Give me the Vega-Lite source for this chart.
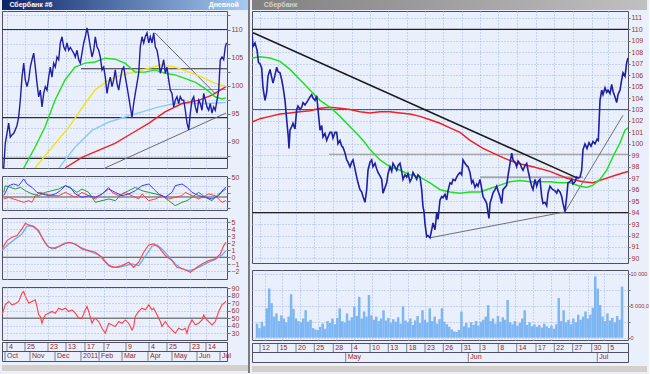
{
"$schema": "https://vega.github.io/schema/vega-lite/v6.json",
"padding": 0,
"background": "#eaeffc",
"bounds": "full",
"spacing": 0,
"config": {
  "view": {"stroke": null},
  "axis": {"title": null, "labelFont": "Liberation Sans", "labelFontSize": 7, "labelColor": "#9b2f2f", "tickColor": "#707070", "tickSize": 3, "labelPadding": 1, "domain": false, "gridColor": "#a3b5e6", "gridDash": [1, 2], "gridWidth": 1, "labelLimit": 19},
  "text": {"font": "Liberation Sans"}
},
"datasets": {
  "lp": [{"i":1.7,"v":85.3},{"i":3.3,"v":89.7},{"i":5,"v":91.5},{"i":6.7,"v":93.3},{"i":8.3,"v":90.8},{"i":10,"v":91.2},{"i":11.7,"v":91.5},{"i":13.3,"v":92.1},{"i":15,"v":92.9},{"i":16.7,"v":94.4},{"i":18.3,"v":97.4},{"i":20,"v":101.5},{"i":21.7,"v":104.0},{"i":23.3,"v":101.0},{"i":25,"v":99.8},{"i":26.7,"v":101.0},{"i":28.3,"v":103.3},{"i":30,"v":104.6},{"i":31.7,"v":105.8},{"i":33.3,"v":103.3},{"i":35,"v":100.4},{"i":36.7,"v":98.0},{"i":38.3,"v":99.2},{"i":40,"v":96.2},{"i":41.7,"v":98.6},{"i":43.3,"v":99.8},{"i":45,"v":99.2},{"i":46.7,"v":101.5},{"i":48.3,"v":103.3},{"i":50,"v":101.5},{"i":51.7,"v":104.0},{"i":53.3,"v":103.3},{"i":55,"v":105.1},{"i":56.7,"v":104.6},{"i":58.3,"v":107.6},{"i":60,"v":108.7},{"i":61.7,"v":106.9},{"i":63.3,"v":106.3},{"i":65,"v":107.6},{"i":66.7,"v":106.3},{"i":68.3,"v":106.8},{"i":70,"v":106.3},{"i":71.7,"v":105.8},{"i":73.3,"v":105.1},{"i":75,"v":106.3},{"i":76.7,"v":104.6},{"i":78.3,"v":104.0},{"i":80,"v":105.8},{"i":81.7,"v":107.6},{"i":83.3,"v":108.7},{"i":85,"v":110.3},{"i":86.7,"v":108.7},{"i":88.3,"v":106.9},{"i":90,"v":105.1},{"i":91.7,"v":106.3},{"i":93.3,"v":108.7},{"i":95,"v":106.9},{"i":96.7,"v":106.3},{"i":98.3,"v":105.1},{"i":100,"v":102.8},{"i":101.7,"v":103.3},{"i":103.3,"v":101.5},{"i":105,"v":98.6},{"i":106.7,"v":100.4},{"i":108.3,"v":101.5},{"i":110,"v":99.8},{"i":111.7,"v":101.0},{"i":113.3,"v":102.8},{"i":115,"v":100.4},{"i":116.7,"v":99.2},{"i":118.3,"v":101.0},{"i":120,"v":102.8},{"i":121.7,"v":103.3},{"i":123.3,"v":101.5},{"i":125,"v":99.8},{"i":126.7,"v":98.0},{"i":128.3,"v":96.2},{"i":130,"v":94.4},{"i":131.7,"v":96.8},{"i":133.3,"v":98.6},{"i":135,"v":100.4},{"i":136.7,"v":102.2},{"i":138.3,"v":106.9},{"i":140,"v":108.7},{"i":141.7,"v":107.6},{"i":143.3,"v":108.7},{"i":145,"v":109.4},{"i":146.7,"v":107.6},{"i":148.3,"v":108.7},{"i":150,"v":107.6},{"i":151.7,"v":109.4},{"i":153.3,"v":106.9},{"i":155,"v":106.3},{"i":156.7,"v":104.6},{"i":158.3,"v":102.2},{"i":160,"v":103.3},{"i":161.7,"v":104.6},{"i":163.3,"v":102.2},{"i":165,"v":103.3},{"i":166.7,"v":101.0},{"i":168.3,"v":99.2},{"i":170,"v":98.6},{"i":171.7,"v":96.2},{"i":173.3,"v":97.4},{"i":175,"v":98.0},{"i":176.7,"v":96.8},{"i":178.3,"v":98.0},{"i":180,"v":97.4},{"i":181.7,"v":97.4},{"i":183.3,"v":95.6},{"i":185,"v":93.3},{"i":186.7,"v":92.1},{"i":188.3,"v":95.1},{"i":190,"v":97.4},{"i":191.7,"v":98.0},{"i":193.3,"v":96.2},{"i":195,"v":95.1},{"i":196.7,"v":97.4},{"i":198.3,"v":96.8},{"i":200,"v":95.6},{"i":201.7,"v":98.6},{"i":203.3,"v":97.4},{"i":205,"v":96.2},{"i":206.7,"v":95.6},{"i":208.3,"v":96.8},{"i":210,"v":95.1},{"i":211.7,"v":96.2},{"i":213.3,"v":95.6},{"i":215,"v":97.4},{"i":216.7,"v":99.2},{"i":218.3,"v":104.6},{"i":220,"v":105.1},{"i":221.7,"v":104.6},{"i":223.3,"v":106.9},{"i":224.5,"v":107.6}],
  "lma": [
    {"s":"g","i":21.7,"v":85.3},{"s":"g","i":33,"v":89},{"s":"g","i":43,"v":92.6},{"s":"g","i":53,"v":97.4},{"s":"g","i":63,"v":101},{"s":"g","i":73,"v":103.3},{"s":"g","i":83,"v":104},{"s":"g","i":93,"v":104.2},{"s":"g","i":103,"v":104.9},{"s":"g","i":113,"v":104.7},{"s":"g","i":123,"v":104},{"s":"g","i":133,"v":102.4},{"s":"g","i":143,"v":102.4},{"s":"g","i":153,"v":102.8},{"s":"g","i":163,"v":102.2},{"s":"g","i":173,"v":101.9},{"s":"g","i":183,"v":101.3},{"s":"g","i":193,"v":100.6},{"s":"g","i":203,"v":99.5},{"s":"g","i":213,"v":98},{"s":"g","i":220,"v":97.6},{"s":"g","i":224,"v":97.8},
    {"s":"y","i":33,"v":85.3},{"s":"y","i":50,"v":89},{"s":"y","i":67,"v":92.6},{"s":"y","i":83,"v":96.8},{"s":"y","i":93,"v":99.2},{"s":"y","i":107,"v":101},{"s":"y","i":120,"v":101.9},{"s":"y","i":133,"v":102.4},{"s":"y","i":147,"v":103.1},{"s":"y","i":160,"v":103.7},{"s":"y","i":173,"v":103.3},{"s":"y","i":187,"v":102.4},{"s":"y","i":200,"v":101.5},{"s":"y","i":213,"v":100.4},{"s":"y","i":224,"v":99.9},
    {"s":"b","i":57,"v":85.3},{"s":"b","i":73,"v":89},{"s":"b","i":90,"v":92},{"s":"b","i":107,"v":93.5},{"s":"b","i":123,"v":94.4},{"s":"b","i":140,"v":95.3},{"s":"b","i":157,"v":96.2},{"s":"b","i":173,"v":96.8},{"s":"b","i":190,"v":96.8},{"s":"b","i":207,"v":96.8},{"s":"b","i":224,"v":97},
    {"s":"r","i":63,"v":85.3},{"s":"r","i":80,"v":87.2},{"s":"r","i":97,"v":88.5},{"s":"r","i":113,"v":89.7},{"s":"r","i":130,"v":91.5},{"s":"r","i":147,"v":93.3},{"s":"r","i":163,"v":95.3},{"s":"r","i":180,"v":96.8},{"s":"r","i":197,"v":97.4},{"s":"r","i":210,"v":98.3},{"s":"r","i":224,"v":99.8}],
  "ltl": [{"s":"sup","i":103,"v":85.3},{"s":"sup","i":224,"v":95.1},{"s":"res","i":153,"v":109.4},{"s":"res","i":213,"v":98.6}],
  "lh": [{"i":0,"i2":225,"v":110,"k":"b"},{"i":79,"i2":225,"v":103,"k":"b"},{"i":155,"i2":224,"v":99.3,"k":"g"},{"i":0,"i2":225,"v":94.3,"k":"b"},{"i":0,"i2":225,"v":87,"k":"b"}],
  "ldmi": [
    {"s":"b","i":1.7,"v":26.7},{"s":"b","i":6.7,"v":39.9},{"s":"b","i":11.7,"v":42.1},{"s":"b","i":16.7,"v":39.9},{"s":"b","i":21.7,"v":48.7},{"s":"b","i":25,"v":42.1},{"s":"b","i":30,"v":37.7},{"s":"b","i":35,"v":31.1},{"s":"b","i":40,"v":29.0},{"s":"b","i":46.7,"v":26.7},{"s":"b","i":53.3,"v":29.0},{"s":"b","i":58.3,"v":33.3},{"s":"b","i":63.3,"v":39.9},{"s":"b","i":68.3,"v":37.7},{"s":"b","i":73.3,"v":29.0},{"s":"b","i":80,"v":24.6},{"s":"b","i":86.7,"v":26.7},{"s":"b","i":93.3,"v":24.6},{"s":"b","i":100,"v":29.0},{"s":"b","i":106.7,"v":35.5},{"s":"b","i":113.3,"v":31.1},{"s":"b","i":120,"v":26.7},{"s":"b","i":126.7,"v":29.0},{"s":"b","i":133.3,"v":33.3},{"s":"b","i":140,"v":39.9},{"s":"b","i":146.7,"v":42.1},{"s":"b","i":151.7,"v":35.5},{"s":"b","i":156.7,"v":29.0},{"s":"b","i":163.3,"v":24.6},{"s":"b","i":170,"v":31.1},{"s":"b","i":173.3,"v":39.9},{"s":"b","i":180,"v":42.1},{"s":"b","i":185,"v":37.7},{"s":"b","i":190,"v":31.1},{"s":"b","i":196.7,"v":26.7},{"s":"b","i":203.3,"v":24.6},{"s":"b","i":210,"v":22.4},{"s":"b","i":216.7,"v":26.7},{"s":"b","i":221.7,"v":35.5},{"s":"b","i":224,"v":37.7},
    {"s":"r","i":1.7,"v":22.4},{"s":"r","i":6.7,"v":24.6},{"s":"r","i":11.7,"v":22.4},{"s":"r","i":16.7,"v":20.2},{"s":"r","i":21.7,"v":18.0},{"s":"r","i":26.7,"v":20.2},{"s":"r","i":30,"v":18.0},{"s":"r","i":33.3,"v":26.7},{"s":"r","i":38.3,"v":31.1},{"s":"r","i":43.3,"v":29.0},{"s":"r","i":50,"v":26.7},{"s":"r","i":56.7,"v":26.7},{"s":"r","i":63.3,"v":31.1},{"s":"r","i":70,"v":26.7},{"s":"r","i":73.3,"v":24.6},{"s":"r","i":80,"v":31.1},{"s":"r","i":86.7,"v":26.7},{"s":"r","i":93.3,"v":22.4},{"s":"r","i":100,"v":29.0},{"s":"r","i":106.7,"v":37.7},{"s":"r","i":110,"v":31.1},{"s":"r","i":116.7,"v":26.7},{"s":"r","i":123.3,"v":31.1},{"s":"r","i":130,"v":26.7},{"s":"r","i":136.7,"v":22.4},{"s":"r","i":140,"v":29.0},{"s":"r","i":146.7,"v":20.2},{"s":"r","i":153.3,"v":22.4},{"s":"r","i":160,"v":26.7},{"s":"r","i":166.7,"v":22.4},{"s":"r","i":173.3,"v":24.6},{"s":"r","i":180,"v":26.7},{"s":"r","i":183.3,"v":31.1},{"s":"r","i":190,"v":26.7},{"s":"r","i":196.7,"v":22.4},{"s":"r","i":203.3,"v":26.7},{"s":"r","i":206.7,"v":29.0},{"s":"r","i":213.3,"v":26.7},{"s":"r","i":220,"v":18.0},{"s":"r","i":224,"v":20.2},
    {"s":"g","i":1.7,"v":31.1},{"s":"g","i":3.3,"v":39.9},{"s":"g","i":8.3,"v":37.7},{"s":"g","i":13.3,"v":35.5},{"s":"g","i":18.3,"v":37.7},{"s":"g","i":23.3,"v":33.3},{"s":"g","i":30,"v":29.0},{"s":"g","i":36.7,"v":26.7},{"s":"g","i":43.3,"v":31.1},{"s":"g","i":50,"v":33.3},{"s":"g","i":56.7,"v":35.5},{"s":"g","i":63.3,"v":39.9},{"s":"g","i":70,"v":35.5},{"s":"g","i":75,"v":31.1},{"s":"g","i":80,"v":35.5},{"s":"g","i":86.7,"v":31.1},{"s":"g","i":93.3,"v":18.0},{"s":"g","i":100,"v":20.2},{"s":"g","i":106.7,"v":22.4},{"s":"g","i":113.3,"v":20.2},{"s":"g","i":120,"v":29.0},{"s":"g","i":126.7,"v":33.3},{"s":"g","i":133.3,"v":37.7},{"s":"g","i":140,"v":33.3},{"s":"g","i":146.7,"v":31.1},{"s":"g","i":153.3,"v":29.0},{"s":"g","i":160,"v":26.7},{"s":"g","i":166.7,"v":20.2},{"s":"g","i":173.3,"v":13.6},{"s":"g","i":180,"v":18.0},{"s":"g","i":185,"v":20.2},{"s":"g","i":190,"v":24.6},{"s":"g","i":196.7,"v":31.1},{"s":"g","i":203.3,"v":24.6},{"s":"g","i":210,"v":20.2},{"s":"g","i":216.7,"v":29.0},{"s":"g","i":221.7,"v":33.3},{"s":"g","i":224,"v":35.5}],
  "lmacd": [
    {"s":"r","i":0,"v":1.19},{"s":"r","i":5,"v":2.38},{"s":"r","i":10,"v":2.85},{"s":"r","i":15,"v":3.09},{"s":"r","i":20,"v":4.04},{"s":"r","i":23.3,"v":4.86},{"s":"r","i":26.7,"v":4.61},{"s":"r","i":31.7,"v":4.43},{"s":"r","i":36.7,"v":3.80},{"s":"r","i":41.7,"v":2.38},{"s":"r","i":46.7,"v":1.43},{"s":"r","i":53.3,"v":1.28},{"s":"r","i":60,"v":1.76},{"s":"r","i":66.7,"v":2.14},{"s":"r","i":73.3,"v":1.90},{"s":"r","i":80,"v":1.19},{"s":"r","i":86.7,"v":0.95},{"s":"r","i":93.3,"v":0.71},{"s":"r","i":100,"v":0},{"s":"r","i":106.7,"v":-1.19},{"s":"r","i":113.3,"v":-1.43},{"s":"r","i":120,"v":-1.19},{"s":"r","i":126.7,"v":-0.71},{"s":"r","i":131.7,"v":-1.43},{"s":"r","i":136.7,"v":-0.71},{"s":"r","i":141.7,"v":0.71},{"s":"r","i":146.7,"v":1.76},{"s":"r","i":151.7,"v":1.90},{"s":"r","i":156.7,"v":1.43},{"s":"r","i":163.3,"v":0.24},{"s":"r","i":170,"v":-0.48},{"s":"r","i":175,"v":-1.43},{"s":"r","i":181.7,"v":-1.67},{"s":"r","i":188.3,"v":-2.14},{"s":"r","i":195,"v":-1.43},{"s":"r","i":200,"v":-0.95},{"s":"r","i":206.7,"v":-0.48},{"s":"r","i":213.3,"v":-0.24},{"s":"r","i":218.3,"v":0.47},{"s":"r","i":221.7,"v":1.66},{"s":"r","i":224,"v":2.14},
    {"s":"b","i":0,"v":0.95},{"s":"b","i":6.7,"v":1.90},{"s":"b","i":13.3,"v":2.61},{"s":"b","i":20,"v":3.33},{"s":"b","i":25,"v":4.43},{"s":"b","i":30,"v":4.43},{"s":"b","i":35,"v":3.95},{"s":"b","i":40,"v":2.85},{"s":"b","i":45,"v":1.66},{"s":"b","i":50,"v":1.19},{"s":"b","i":56.7,"v":1.57},{"s":"b","i":63.3,"v":2.04},{"s":"b","i":70,"v":2.04},{"s":"b","i":76.7,"v":1.57},{"s":"b","i":83.3,"v":1.09},{"s":"b","i":90,"v":0.71},{"s":"b","i":96.7,"v":0.33},{"s":"b","i":103.3,"v":-0.71},{"s":"b","i":110,"v":-1.43},{"s":"b","i":116.7,"v":-1.43},{"s":"b","i":123.3,"v":-1.19},{"s":"b","i":130,"v":-0.95},{"s":"b","i":136.7,"v":-1.19},{"s":"b","i":143.3,"v":0.14},{"s":"b","i":150,"v":1.57},{"s":"b","i":155,"v":1.76},{"s":"b","i":160,"v":1.19},{"s":"b","i":166.7,"v":0.14},{"s":"b","i":173.3,"v":-0.95},{"s":"b","i":180,"v":-1.67},{"s":"b","i":186.7,"v":-1.91},{"s":"b","i":193.3,"v":-1.67},{"s":"b","i":200,"v":-1.19},{"s":"b","i":206.7,"v":-0.71},{"s":"b","i":213.3,"v":-0.33},{"s":"b","i":220,"v":0.33},{"s":"b","i":224,"v":0.95}],
  "lrsi": [{"i":0,"v":54.4},{"i":3.3,"v":67.7},{"i":6.7,"v":72.2},{"i":10,"v":67.7},{"i":13.3,"v":69.1},{"i":16.7,"v":72.2},{"i":20,"v":83.3},{"i":21.7,"v":85.5},{"i":23.3,"v":78.9},{"i":26.7,"v":70.0},{"i":30,"v":72.2},{"i":33.3,"v":74.4},{"i":35,"v":65.5},{"i":36.7,"v":54.4},{"i":38.3,"v":52.2},{"i":40,"v":43.3},{"i":41.7,"v":50.0},{"i":43.3,"v":54.4},{"i":46.7,"v":56.6},{"i":50,"v":58.9},{"i":53.3,"v":56.6},{"i":56.7,"v":63.3},{"i":60,"v":61.1},{"i":63.3,"v":63.3},{"i":66.7,"v":58.9},{"i":70,"v":61.1},{"i":73.3,"v":56.6},{"i":76.7,"v":50.0},{"i":80,"v":50.0},{"i":83.3,"v":61.1},{"i":85,"v":65.5},{"i":86.7,"v":58.9},{"i":90,"v":43.3},{"i":91.7,"v":47.7},{"i":93.3,"v":50.0},{"i":96.7,"v":45.5},{"i":100,"v":36.6},{"i":103.3,"v":30.0},{"i":105,"v":36.6},{"i":106.7,"v":43.3},{"i":110,"v":41.1},{"i":113.3,"v":38.9},{"i":116.7,"v":45.5},{"i":120,"v":43.3},{"i":123.3,"v":47.7},{"i":126.7,"v":43.3},{"i":130,"v":34.4},{"i":131.7,"v":38.9},{"i":133.3,"v":52.2},{"i":136.7,"v":58.9},{"i":140,"v":63.3},{"i":143.3,"v":61.1},{"i":146.7,"v":67.7},{"i":150,"v":61.1},{"i":151.7,"v":63.3},{"i":155,"v":54.4},{"i":158.3,"v":45.5},{"i":160,"v":38.9},{"i":163.3,"v":45.5},{"i":166.7,"v":38.9},{"i":170,"v":34.4},{"i":173.3,"v":30.0},{"i":176.7,"v":36.6},{"i":180,"v":34.4},{"i":183.3,"v":36.6},{"i":185,"v":30.0},{"i":186.7,"v":38.9},{"i":190,"v":47.7},{"i":193.3,"v":41.1},{"i":196.7,"v":43.3},{"i":200,"v":47.7},{"i":201.7,"v":54.4},{"i":203.3,"v":50.0},{"i":206.7,"v":45.5},{"i":210,"v":41.1},{"i":213.3,"v":45.5},{"i":216.7,"v":58.9},{"i":220,"v":67.7},{"i":224,"v":72.2}],
  "ldate": [{"r":"d","i":5,"l":"4"},{"r":"d","i":23,"l":"25"},{"r":"d","i":46,"l":"23"},{"r":"d","i":64,"l":"13"},{"r":"d","i":83,"l":"17"},{"r":"d","i":102,"l":"7"},{"r":"d","i":124,"l":"9"},{"r":"d","i":147,"l":"4"},{"r":"d","i":165,"l":"25"},{"r":"d","i":188,"l":"23"},{"r":"d","i":204,"l":"14"},{"r":"m","i":3,"l":"Oct"},{"r":"m","i":28,"l":"Nov"},{"r":"m","i":53,"l":"Dec"},{"r":"m","i":79,"l":"2011"},{"r":"m","i":97,"l":"Feb"},{"r":"m","i":120,"l":"Mar"},{"r":"m","i":146,"l":"Apr"},{"r":"m","i":170,"l":"May"},{"r":"m","i":195,"l":"Jun"},{"r":"m","i":218,"l":"Jul"}],
  "rp": [{"i":0,"v":109.6},{"i":1,"v":108.5},{"i":3,"v":108.8},{"i":5,"v":108.2},{"i":6.5,"v":107.1},{"i":8,"v":107.0},{"i":9.7,"v":106.6},{"i":11,"v":104.9},{"i":13,"v":103.8},{"i":14.7,"v":104.5},{"i":16,"v":105.9},{"i":18,"v":106.5},{"i":19.7,"v":105.8},{"i":21,"v":105.3},{"i":23,"v":106.0},{"i":24.7,"v":106.7},{"i":26,"v":106.3},{"i":28,"v":106.2},{"i":29.7,"v":105.6},{"i":31,"v":105.0},{"i":33,"v":103.8},{"i":34.7,"v":102.1},{"i":36.3,"v":100.6},{"i":37,"v":99.6},{"i":38,"v":101.2},{"i":39.7,"v":101.5},{"i":41,"v":101.8},{"i":43,"v":101.3},{"i":44.7,"v":103.0},{"i":46,"v":103.3},{"i":48,"v":103.0},{"i":49.7,"v":103.2},{"i":51,"v":103.6},{"i":53,"v":103.4},{"i":56,"v":103.8},{"i":58,"v":104.1},{"i":59.7,"v":104.3},{"i":61,"v":104.0},{"i":63,"v":103.8},{"i":64.7,"v":104.2},{"i":66,"v":103.0},{"i":68,"v":101.2},{"i":69.7,"v":101.6},{"i":71,"v":100.6},{"i":73,"v":100.9},{"i":74.7,"v":100.3},{"i":76,"v":100.6},{"i":78,"v":101.0},{"i":79.7,"v":101.0},{"i":81,"v":100.5},{"i":83,"v":101.0},{"i":84.7,"v":101.0},{"i":86,"v":100.0},{"i":88,"v":100.3},{"i":89.7,"v":99.8},{"i":91,"v":99.7},{"i":93,"v":99.2},{"i":94.7,"v":98.6},{"i":96,"v":98.4},{"i":98,"v":98.0},{"i":99.7,"v":98.4},{"i":101,"v":98.6},{"i":103,"v":97.8},{"i":104.7,"v":97.1},{"i":106,"v":96.6},{"i":108,"v":96.0},{"i":109.7,"v":95.8},{"i":111,"v":95.4},{"i":113,"v":94.9},{"i":114.7,"v":96.0},{"i":116,"v":97.7},{"i":118,"v":98.4},{"i":119.7,"v":98.6},{"i":121,"v":98.0},{"i":123,"v":98.3},{"i":124.7,"v":97.8},{"i":126,"v":97.5},{"i":128,"v":97.2},{"i":129.7,"v":96.9},{"i":131,"v":95.7},{"i":133,"v":96.2},{"i":134.7,"v":96.6},{"i":136,"v":97.4},{"i":138,"v":98.0},{"i":139.7,"v":97.6},{"i":141,"v":98.3},{"i":143,"v":98.0},{"i":144.7,"v":97.7},{"i":146,"v":98.1},{"i":148,"v":98.3},{"i":149.7,"v":97.6},{"i":151,"v":96.9},{"i":153,"v":97.3},{"i":154.7,"v":97.1},{"i":156,"v":97.4},{"i":158,"v":96.7},{"i":159.7,"v":97.0},{"i":161,"v":97.5},{"i":163,"v":97.2},{"i":164.7,"v":96.9},{"i":166,"v":97.3},{"i":168,"v":97.1},{"i":169.7,"v":96.0},{"i":171,"v":94.5},{"i":172,"v":94.1},{"i":173,"v":93.0},{"i":174.7,"v":91.9},{"i":176,"v":92.0},{"i":178,"v":91.8},{"i":179.7,"v":92.5},{"i":181,"v":93.1},{"i":183,"v":92.5},{"i":184.7,"v":94.0},{"i":186,"v":93.4},{"i":188,"v":95.1},{"i":189.7,"v":95.4},{"i":191,"v":95.3},{"i":193,"v":95.6},{"i":194.7,"v":95.1},{"i":196,"v":95.9},{"i":198,"v":96.6},{"i":199.7,"v":96.5},{"i":201,"v":96.9},{"i":203,"v":96.8},{"i":204.7,"v":97.1},{"i":206,"v":97.3},{"i":208,"v":97.5},{"i":209.7,"v":97.3},{"i":211,"v":98.6},{"i":213,"v":98.3},{"i":214.7,"v":98.1},{"i":216,"v":98.0},{"i":218,"v":97.5},{"i":219.7,"v":96.6},{"i":221,"v":96.8},{"i":223,"v":96.2},{"i":224.7,"v":96.5},{"i":226,"v":96.3},{"i":228,"v":96.9},{"i":229.7,"v":96.1},{"i":231,"v":95.4},{"i":233,"v":95.1},{"i":234.7,"v":94.8},{"i":236,"v":94.0},{"i":237,"v":93.5},{"i":238,"v":94.8},{"i":239.7,"v":95.3},{"i":241,"v":95.7},{"i":243,"v":96.0},{"i":244.7,"v":96.3},{"i":246,"v":95.9},{"i":248,"v":95.4},{"i":249.7,"v":94.8},{"i":251,"v":96.0},{"i":253,"v":96.2},{"i":254.7,"v":96.4},{"i":256,"v":97.2},{"i":258,"v":98.3},{"i":259.7,"v":99.2},{"i":261,"v":98.6},{"i":263,"v":98.4},{"i":264.7,"v":98.0},{"i":266,"v":98.5},{"i":268,"v":98.3},{"i":269.7,"v":97.9},{"i":271,"v":97.7},{"i":273,"v":98.1},{"i":274.7,"v":98.3},{"i":276,"v":97.7},{"i":278,"v":96.9},{"i":279.7,"v":96.3},{"i":281,"v":96.0},{"i":283,"v":96.9},{"i":284.7,"v":96.3},{"i":286,"v":96.7},{"i":288,"v":96.9},{"i":289.7,"v":95.4},{"i":291,"v":94.8},{"i":293,"v":94.9},{"i":294.7,"v":94.6},{"i":296,"v":95.7},{"i":298,"v":96.3},{"i":299.7,"v":96.1},{"i":301,"v":96.0},{"i":303,"v":95.9},{"i":304.7,"v":95.7},{"i":306,"v":96.0},{"i":308,"v":95.8},{"i":309.7,"v":95.4},{"i":311,"v":94.8},{"i":313,"v":94.1},{"i":314.7,"v":95.4},{"i":316,"v":96.6},{"i":318,"v":96.7},{"i":319.7,"v":96.9},{"i":321,"v":96.5},{"i":323,"v":96.7},{"i":324.7,"v":97.1},{"i":326,"v":97.0},{"i":328,"v":97.1},{"i":329.7,"v":97.7},{"i":331,"v":99.5},{"i":333,"v":100.0},{"i":335,"v":99.6},{"i":337,"v":100.1},{"i":339,"v":99.8},{"i":341,"v":100.2},{"i":343,"v":100.0},{"i":345,"v":100.4},{"i":346.3,"v":100.3},{"i":348,"v":103.8},{"i":349.7,"v":104.7},{"i":351,"v":104.3},{"i":353,"v":104.9},{"i":354.7,"v":104.5},{"i":356,"v":104.7},{"i":358,"v":104.4},{"i":359.7,"v":105.2},{"i":361,"v":104.6},{"i":363,"v":104.1},{"i":364.7,"v":103.6},{"i":366,"v":104.3},{"i":368,"v":104.7},{"i":369.7,"v":105.6},{"i":371,"v":106.2},{"i":373,"v":105.9},{"i":374.7,"v":107.1},{"i":376,"v":107.5}],
  "rma": [
    {"s":"g","i":0,"v":107.5},{"s":"g","i":8,"v":107.6},{"s":"g","i":18,"v":107.5},{"s":"g","i":28,"v":107.2},{"s":"g","i":38,"v":106.5},{"s":"g","i":48,"v":105.6},{"s":"g","i":58,"v":104.7},{"s":"g","i":68,"v":103.8},{"s":"g","i":78,"v":103.2},{"s":"g","i":88,"v":102.4},{"s":"g","i":98,"v":101.5},{"s":"g","i":108,"v":100.6},{"s":"g","i":113,"v":100.1},{"s":"g","i":118,"v":99.5},{"s":"g","i":128,"v":98.6},{"s":"g","i":138,"v":98.0},{"s":"g","i":148,"v":97.7},{"s":"g","i":158,"v":97.3},{"s":"g","i":168,"v":97.1},{"s":"g","i":178,"v":96.6},{"s":"g","i":188,"v":96.0},{"s":"g","i":198,"v":95.8},{"s":"g","i":208,"v":95.7},{"s":"g","i":218,"v":95.8},{"s":"g","i":228,"v":95.8},{"s":"g","i":238,"v":96.1},{"s":"g","i":248,"v":96.4},{"s":"g","i":258,"v":96.7},{"s":"g","i":268,"v":96.8},{"s":"g","i":278,"v":96.7},{"s":"g","i":288,"v":96.7},{"s":"g","i":298,"v":96.7},{"s":"g","i":308,"v":96.6},{"s":"g","i":318,"v":96.6},{"s":"g","i":328,"v":96.3},{"s":"g","i":334.7,"v":96.2},{"s":"g","i":341,"v":96.4},{"s":"g","i":348,"v":96.9},{"s":"g","i":354.7,"v":97.7},{"s":"g","i":361,"v":98.9},{"s":"g","i":368,"v":100.1},{"s":"g","i":373,"v":101.2},{"s":"g","i":376,"v":101.4},
    {"s":"r","i":0,"v":101.9},{"s":"r","i":8,"v":102.2},{"s":"r","i":18,"v":102.4},{"s":"r","i":28,"v":102.6},{"s":"r","i":38,"v":102.7},{"s":"r","i":48,"v":102.8},{"s":"r","i":58,"v":102.9},{"s":"r","i":68,"v":103.1},{"s":"r","i":78,"v":103.2},{"s":"r","i":88,"v":103.1},{"s":"r","i":98,"v":103.0},{"s":"r","i":108,"v":102.8},{"s":"r","i":118,"v":102.7},{"s":"r","i":128,"v":102.8},{"s":"r","i":138,"v":102.8},{"s":"r","i":148,"v":102.7},{"s":"r","i":158,"v":102.6},{"s":"r","i":168,"v":102.4},{"s":"r","i":178,"v":102.1},{"s":"r","i":188,"v":101.8},{"s":"r","i":198,"v":101.4},{"s":"r","i":208,"v":101.0},{"s":"r","i":218,"v":100.3},{"s":"r","i":231,"v":99.6},{"s":"r","i":251,"v":98.8},{"s":"r","i":265,"v":98.3},{"s":"r","i":281,"v":98.0},{"s":"r","i":298,"v":97.6},{"s":"r","i":315,"v":97.0},{"s":"r","i":331,"v":96.7},{"s":"r","i":341,"v":96.6},{"s":"r","i":351,"v":96.9},{"s":"r","i":365,"v":97.3},{"s":"r","i":376,"v":97.6}],
  "rtl": [{"s":"t1","k":"b","i":1,"v":109.7},{"s":"t1","k":"b","i":325,"v":97.03},{"s":"t2","k":"g","i":178,"v":91.8},{"s":"t2","k":"g","i":313,"v":94.06},{"s":"t3","k":"g","i":313,"v":94.06},{"s":"t3","k":"g","i":371,"v":102.5}],
  "rh": [{"i":0,"i2":376,"v":110,"k":"b"},{"i":0,"i2":376,"v":103,"k":"d"},{"i":77,"i2":376,"v":99.1,"k":"g"},{"i":228,"i2":331,"v":97.1,"k":"g"},{"i":0,"i2":376,"v":94,"k":"b"}],
  "rvol": [{"i":0,"v":2200},{"i":2.5,"v":1500},{"i":5,"v":2500},{"i":7.5,"v":1800},{"i":10,"v":4600},{"i":12.5,"v":7700},{"i":15,"v":5400},{"i":17.5,"v":3300},{"i":20,"v":3800},{"i":22.5,"v":2600},{"i":25,"v":3500},{"i":27.5,"v":3000},{"i":30,"v":2400},{"i":32.5,"v":3300},{"i":35,"v":6800},{"i":37.5,"v":4500},{"i":40,"v":3000},{"i":42.5,"v":2600},{"i":45,"v":2400},{"i":47.5,"v":3000},{"i":50,"v":4300},{"i":52.5,"v":2500},{"i":55,"v":2800},{"i":57.5,"v":1500},{"i":60,"v":1300},{"i":62.5,"v":1200},{"i":65,"v":1700},{"i":67.5,"v":2200},{"i":70,"v":1400},{"i":72.5,"v":2600},{"i":75,"v":2300},{"i":77.5,"v":3000},{"i":80,"v":2100},{"i":82.5,"v":3100},{"i":85,"v":4600},{"i":87.5,"v":2600},{"i":90,"v":2400},{"i":92.5,"v":3800},{"i":95,"v":2700},{"i":97.5,"v":3200},{"i":100,"v":4900},{"i":102.5,"v":3400},{"i":105,"v":6400},{"i":107.5,"v":3000},{"i":110,"v":4100},{"i":112.5,"v":3300},{"i":115,"v":6700},{"i":117.5,"v":3500},{"i":120,"v":2800},{"i":122.5,"v":3300},{"i":125,"v":2600},{"i":127.5,"v":3000},{"i":130,"v":4300},{"i":132.5,"v":2700},{"i":135,"v":3100},{"i":137.5,"v":2300},{"i":140,"v":2900},{"i":142.5,"v":2500},{"i":145,"v":3200},{"i":147.5,"v":2200},{"i":150,"v":4900},{"i":152.5,"v":2700},{"i":155,"v":2400},{"i":157.5,"v":3000},{"i":160,"v":2000},{"i":162.5,"v":2700},{"i":165,"v":3400},{"i":167.5,"v":2300},{"i":170,"v":4300},{"i":172.5,"v":2800},{"i":175,"v":2400},{"i":177.5,"v":4600},{"i":180,"v":2600},{"i":182.5,"v":3300},{"i":185,"v":2200},{"i":187.5,"v":2900},{"i":190,"v":4600},{"i":192.5,"v":2500},{"i":195,"v":2100},{"i":197.5,"v":1700},{"i":200,"v":1300},{"i":202.5,"v":1000},{"i":205,"v":900},{"i":207.5,"v":1200},{"i":210,"v":4100},{"i":212.5,"v":1800},{"i":215,"v":2300},{"i":217.5,"v":1600},{"i":220,"v":2400},{"i":222.5,"v":2000},{"i":225,"v":2600},{"i":227.5,"v":1900},{"i":230,"v":2500},{"i":232.5,"v":2800},{"i":235,"v":3300},{"i":237.5,"v":5100},{"i":240,"v":2600},{"i":242.5,"v":3000},{"i":245,"v":2200},{"i":247.5,"v":3400},{"i":250,"v":2500},{"i":252.5,"v":3200},{"i":255,"v":2800},{"i":257.5,"v":5900},{"i":260,"v":2400},{"i":262.5,"v":2100},{"i":265,"v":2600},{"i":267.5,"v":1900},{"i":270,"v":2300},{"i":272.5,"v":3000},{"i":275,"v":4300},{"i":277.5,"v":2000},{"i":280,"v":2400},{"i":282.5,"v":1800},{"i":285,"v":2100},{"i":287.5,"v":1700},{"i":290,"v":2000},{"i":292.5,"v":1600},{"i":295,"v":2200},{"i":297.5,"v":1800},{"i":300,"v":1500},{"i":302.5,"v":1900},{"i":305,"v":1400},{"i":307.5,"v":2100},{"i":310,"v":6200},{"i":312.5,"v":2600},{"i":315,"v":4300},{"i":317.5,"v":2400},{"i":320,"v":2800},{"i":322.5,"v":2100},{"i":325,"v":3000},{"i":327.5,"v":2400},{"i":330,"v":3600},{"i":332.5,"v":2800},{"i":335,"v":3300},{"i":337.5,"v":4100},{"i":340,"v":3000},{"i":342.5,"v":3600},{"i":345,"v":4700},{"i":347.5,"v":9600},{"i":350,"v":7700},{"i":352.5,"v":5100},{"i":355,"v":3300},{"i":357.5,"v":2600},{"i":360,"v":3800},{"i":362.5,"v":2700},{"i":365,"v":3100},{"i":367.5,"v":2400},{"i":370,"v":3400},{"i":372.5,"v":2800},{"i":375,"v":8000}],
  "rdate": [{"r":"d","i":8,"l":"12"},{"r":"d","i":25.7,"l":"15"},{"r":"d","i":44,"l":"20"},{"r":"d","i":62.3,"l":"25"},{"r":"d","i":81.3,"l":"28"},{"r":"d","i":99.7,"l":"4"},{"r":"d","i":118,"l":"10"},{"r":"d","i":136.3,"l":"13"},{"r":"d","i":154.7,"l":"18"},{"r":"d","i":173,"l":"23"},{"r":"d","i":191.3,"l":"26"},{"r":"d","i":209.7,"l":"31"},{"r":"d","i":228,"l":"3"},{"r":"d","i":246.3,"l":"8"},{"r":"d","i":264.7,"l":"14"},{"r":"d","i":284,"l":"17"},{"r":"d","i":302.3,"l":"22"},{"r":"d","i":320.7,"l":"27"},{"r":"d","i":339.7,"l":"30"},{"r":"d","i":356.3,"l":"5"},{"r":"m","i":93.7,"l":"May"},{"r":"m","i":216.3,"l":"Jun"},{"r":"m","i":345.3,"l":"Jul"}],
  "last": [{"v":107.41,"label":"107.41"}],
  "vlast": [{"v":3140,"label":"2 670,0"}]
},
"hconcat": [
  {"vconcat": [
    {"width": 246, "height": 10,
     "view": {"fill": {"gradient": "linear", "x1": 0, "x2": 1, "y1": 0, "y2": 0, "stops": [{"offset": 0, "color": "#0a246a"}, {"offset": 1, "color": "#a6caf0"}]}, "stroke": null},
     "layer": [
       {"data": {"values": [{"t": "Сбербанк #6"}]}, "mark": {"type": "text", "align": "left", "baseline": "middle", "color": "#ffffff", "fontSize": 7, "fontWeight": "bold"}, "encoding": {"x": {"datum": 0.03, "type": "quantitative", "scale": {"domain": [0, 1]}, "axis": null}, "text": {"field": "t"}}},
       {"data": {"values": [{"t": "Дневной"}]}, "mark": {"type": "text", "align": "left", "baseline": "middle", "color": "#ffffff", "fontSize": 7, "fontWeight": "bold"}, "encoding": {"x": {"datum": 0.84, "type": "quantitative", "scale": {"domain": [0, 1]}, "axis": null}, "text": {"field": "t"}}}
     ]},
    {"vconcat": [
      {"width": 225, "height": 157,
       "view": {"fill": "#eaeffc", "stroke": "#505060", "strokeWidth": 1},
       "encoding": {
         "x": {"field": "i", "type": "quantitative", "scale": {"domain": [0, 225], "nice": false, "zero": false}, "axis": {"values": [5,23,46,64,83,102,124,147,165,188,204], "labels": false, "ticks": false, "grid": true}},
         "y": {"field": "v", "type": "quantitative", "scale": {"domain": [85.3, 113.3], "nice": false, "zero": false}, "axis": {"orient": "right", "values": [85,87.5,90,92.5,95,97.5,100,102.5,105,107.5,110,112.5], "labelExpr": "datum.value % 5 == 0 ? datum.label : ''", "grid": true}}
       },
       "layer": [
         {"data": {"name": "lh"}, "transform": [{"filter": "datum.k == 'b'"}], "mark": {"type": "rule", "color": "#2e2e2e", "strokeWidth": 1.2}, "encoding": {"x2": {"field": "i2"}}},
         {"data": {"name": "lh"}, "transform": [{"filter": "datum.k == 'g'"}], "mark": {"type": "rule", "color": "#8e8e8e", "strokeWidth": 1.2}, "encoding": {"x2": {"field": "i2"}}},
         {"data": {"name": "ltl"}, "mark": {"type": "line", "color": "#6a6a6a", "strokeWidth": 1, "clip": true}, "encoding": {"detail": {"field": "s"}}},
         {"data": {"name": "lma"}, "transform": [{"filter": "datum.s == 'b'"}], "mark": {"type": "line", "color": "#8fc8ff", "strokeWidth": 1.4, "clip": true}},
         {"data": {"name": "lma"}, "transform": [{"filter": "datum.s == 'r'"}], "mark": {"type": "line", "color": "#f02020", "strokeWidth": 1.4, "clip": true}},
         {"data": {"name": "lma"}, "transform": [{"filter": "datum.s == 'y'"}], "mark": {"type": "line", "color": "#f2e41c", "strokeWidth": 1.4, "clip": true}},
         {"data": {"name": "lma"}, "transform": [{"filter": "datum.s == 'g'"}], "mark": {"type": "line", "color": "#1fe01f", "strokeWidth": 1.4, "clip": true}},
         {"data": {"name": "lp"}, "mark": {"type": "line", "color": "#1f1fa5", "strokeWidth": 1.4, "clip": true}},
         {"data": {"name": "last"}, "mark": {"type": "point", "shape": "M0,-1H5V1H0Z", "size": 64, "filled": true, "fill": "#ffffff", "stroke": "#3a5ab0", "strokeWidth": 1, "opacity": 1}, "encoding": {"x": {"datum": 225, "type": "quantitative"}}},
         {"data": {"name": "last"}, "mark": {"type": "text", "align": "left", "baseline": "middle", "dx": 1, "fontSize": 6.5, "color": "#2a4aa0", "limit": 20}, "encoding": {"x": {"datum": 225, "type": "quantitative"}, "text": {"field": "label"}}}
       ]},
      {"width": 225, "height": 34,
       "view": {"fill": "#eaeffc", "stroke": "#505060", "strokeWidth": 1},
       "encoding": {
         "x": {"field": "i", "type": "quantitative", "scale": {"domain": [0, 225], "nice": false, "zero": false}, "axis": {"values": [5,23,46,64,83,102,124,147,165,188,204], "labels": false, "ticks": false, "grid": true}},
         "y": {"field": "v", "type": "quantitative", "scale": {"domain": [7.9, 52.6], "nice": false, "zero": false}, "axis": {"orient": "right", "values": [10,20,30,40,50], "labelExpr": "datum.value == 50 ? '50' : ''", "grid": true}}
       },
       "layer": [
         {"data": {"values": [{"i": 0, "i2": 225, "v": 25}]}, "mark": {"type": "rule", "color": "#505050", "strokeWidth": 1}, "encoding": {"x2": {"field": "i2"}}},
         {"data": {"name": "ldmi"}, "transform": [{"filter": "datum.s == 'g'"}], "mark": {"type": "line", "color": "#1c9c3c", "strokeWidth": 1, "clip": true}},
         {"data": {"name": "ldmi"}, "transform": [{"filter": "datum.s == 'r'"}], "mark": {"type": "line", "color": "#ff3d3d", "strokeWidth": 1, "clip": true}},
         {"data": {"name": "ldmi"}, "transform": [{"filter": "datum.s == 'b'"}], "mark": {"type": "line", "color": "#3d3dff", "strokeWidth": 1, "clip": true}}
       ]},
      {"width": 225, "height": 61,
       "view": {"fill": "#eaeffc", "stroke": "#505060", "strokeWidth": 1},
       "encoding": {
         "x": {"field": "i", "type": "quantitative", "scale": {"domain": [0, 225], "nice": false, "zero": false}, "axis": {"values": [5,23,46,64,83,102,124,147,165,188,204], "labels": false, "ticks": false, "grid": true}},
         "y": {"field": "v", "type": "quantitative", "scale": {"domain": [-3.1, 5.6], "nice": false, "zero": false}, "axis": {"orient": "right", "values": [-2,-1,0,1,2,3,4,5], "grid": true}}
       },
       "layer": [
         {"data": {"values": [{"i": 0, "i2": 225, "v": 0}]}, "mark": {"type": "rule", "color": "#505050", "strokeWidth": 1}, "encoding": {"x2": {"field": "i2"}}},
         {"data": {"name": "lmacd"}, "transform": [{"filter": "datum.s == 'b'"}], "mark": {"type": "line", "color": "#5aa8ff", "strokeWidth": 1.2, "clip": true}},
         {"data": {"name": "lmacd"}, "transform": [{"filter": "datum.s == 'r'"}], "mark": {"type": "line", "color": "#ff4a4a", "strokeWidth": 1.2, "clip": true}}
       ]},
      {"width": 225, "height": 53,
       "view": {"fill": "#eaeffc", "stroke": "#505060", "strokeWidth": 1},
       "encoding": {
         "x": {"field": "i", "type": "quantitative", "scale": {"domain": [0, 225], "nice": false, "zero": false}, "axis": {"values": [5,23,46,64,83,102,124,147,165,188,204], "labels": false, "ticks": false, "grid": true}},
         "y": {"field": "v", "type": "quantitative", "scale": {"domain": [21, 91.4], "nice": false, "zero": false}, "axis": {"orient": "right", "values": [30,40,50,60,70,80,90], "grid": true}}
       },
       "layer": [
         {"data": {"values": [{"i": 0, "i2": 225, "v": 50}]}, "mark": {"type": "rule", "color": "#505050", "strokeWidth": 1}, "encoding": {"x2": {"field": "i2"}}},
         {"data": {"name": "lrsi"}, "mark": {"type": "line", "color": "#ff4040", "strokeWidth": 1.1, "clip": true}}
       ]}
    ], "spacing": 8, "bounds": "flush"},
    {"width": 225, "height": 19,
     "view": {"fill": "#eaeffc", "stroke": "#505060", "strokeWidth": 1},
     "data": {"name": "ldate"},
     "encoding": {
       "x": {"field": "i", "type": "quantitative", "scale": {"domain": [0, 225], "nice": false, "zero": false}, "axis": null},
       "y": {"field": "r", "type": "nominal", "scale": {"domain": ["d", "m"], "paddingInner": 0, "paddingOuter": 0}, "axis": {"grid": true, "bandPosition": 0, "labels": false, "ticks": false, "domain": false, "gridDash": [], "gridColor": "#505060"}}
     },
     "layer": [
       {"mark": {"type": "tick", "color": "#505060", "thickness": 1, "size": 9}},
       {"mark": {"type": "text", "align": "left", "baseline": "middle", "dx": 2, "fontSize": 7, "color": "#8b2a2a"}, "encoding": {"text": {"field": "l"}}}
     ]},
    {"width": 246, "height": 6, "view": {"fill": "#d4d0c8", "stroke": null}, "data": {"values": [{}]}, "mark": {"type": "text"}, "encoding": {"text": {"value": ""}}},
    {"width": 246, "height": 7, "view": {"fill": "#a4a4a4", "stroke": null}, "data": {"values": [{}]}, "mark": {"type": "text"}, "encoding": {"text": {"value": ""}}}
  ], "spacing": 0, "bounds": "full"},
  {"width": 2, "height": 373, "view": {"fill": "#7c7c7c", "stroke": null}, "data": {"values": [{}]}, "mark": {"type": "text"}, "encoding": {"text": {"value": ""}}},
  {"vconcat": [
    {"width": 395, "height": 10,
     "view": {"fill": {"gradient": "linear", "x1": 0, "x2": 1, "y1": 0, "y2": 0, "stops": [{"offset": 0, "color": "#808080"}, {"offset": 1, "color": "#c0c0c0"}]}, "stroke": null},
     "data": {"values": [{"t": "Сбербанк"}]},
     "mark": {"type": "text", "align": "left", "baseline": "middle", "color": "#d8d4cc", "fontSize": 7, "fontWeight": "bold"},
     "encoding": {"x": {"datum": 0.03, "type": "quantitative", "scale": {"domain": [0, 1]}, "axis": null}, "text": {"field": "t"}}},
    {"vconcat": [
      {"width": 376, "height": 252,
       "view": {"fill": "#eaeffc", "stroke": "#505060", "strokeWidth": 1},
       "encoding": {
         "x": {"field": "i", "type": "quantitative", "scale": {"domain": [0, 376], "nice": false, "zero": false}, "axis": {"values": [8,25.7,44,62.3,81.3,99.7,118,136.3,154.7,173,191.3,209.7,228,246.3,264.7,284,302.3,320.7,339.7,356.3], "labels": false, "ticks": false, "grid": true}},
         "y": {"field": "v", "type": "quantitative", "scale": {"domain": [89.6, 111.6], "nice": false, "zero": false}, "axis": {"orient": "right", "values": [90,91,92,93,94,95,96,97,98,99,100,101,102,103,104,105,106,107,108,109,110,111], "grid": true, "tickSize": 2}}
       },
       "layer": [
         {"data": {"name": "rh"}, "transform": [{"filter": "datum.k == 'b'"}], "mark": {"type": "rule", "color": "#222222", "strokeWidth": 1.3}, "encoding": {"x2": {"field": "i2"}}},
         {"data": {"name": "rh"}, "transform": [{"filter": "datum.k == 'd'"}], "mark": {"type": "rule", "color": "#5a5a5a", "strokeWidth": 1.1}, "encoding": {"x2": {"field": "i2"}}},
         {"data": {"name": "rh"}, "transform": [{"filter": "datum.k == 'g'"}], "mark": {"type": "rule", "color": "#8e8e8e", "strokeWidth": 1.1}, "encoding": {"x2": {"field": "i2"}}},
         {"data": {"name": "rtl"}, "transform": [{"filter": "datum.k == 'g'"}], "mark": {"type": "line", "color": "#707070", "strokeWidth": 1, "clip": true}, "encoding": {"detail": {"field": "s"}}},
         {"data": {"name": "rma"}, "transform": [{"filter": "datum.s == 'r'"}], "mark": {"type": "line", "color": "#f02020", "strokeWidth": 1.5, "clip": true}},
         {"data": {"name": "rma"}, "transform": [{"filter": "datum.s == 'g'"}], "mark": {"type": "line", "color": "#1fe01f", "strokeWidth": 1.5, "clip": true}},
         {"data": {"name": "rtl"}, "transform": [{"filter": "datum.k == 'b'"}], "mark": {"type": "line", "color": "#1a1a1a", "strokeWidth": 1.6, "clip": true}, "encoding": {"detail": {"field": "s"}}},
         {"data": {"name": "rp"}, "mark": {"type": "line", "color": "#1f1fa5", "strokeWidth": 1.6, "clip": true}},
         {"data": {"name": "last"}, "mark": {"type": "point", "shape": "M0,-1H5V1H0Z", "size": 64, "filled": true, "fill": "#ffffff", "stroke": "#3a5ab0", "strokeWidth": 1, "opacity": 1}, "encoding": {"x": {"datum": 376, "type": "quantitative"}}},
         {"data": {"name": "last"}, "mark": {"type": "text", "align": "left", "baseline": "middle", "dx": 1, "fontSize": 6.5, "color": "#2a4aa0", "limit": 19}, "encoding": {"x": {"datum": 376, "type": "quantitative"}, "text": {"field": "label"}}}
       ]},
      {"width": 376, "height": 70,
       "view": {"fill": "#eaeffc", "stroke": "#505060", "strokeWidth": 1},
       "encoding": {
         "x": {"field": "i", "type": "quantitative", "scale": {"domain": [0, 376], "nice": false, "zero": false}, "axis": {"values": [8,25.7,44,62.3,81.3,99.7,118,136.3,154.7,173,191.3,209.7,228,246.3,264.7,284,302.3,320.7,339.7,356.3], "labels": false, "ticks": false, "grid": true}},
         "y": {"field": "v", "type": "quantitative", "scale": {"domain": [-360, 10600], "nice": false, "zero": false}, "axis": {"orient": "right", "values": [0, 2500, 5000, 7500, 10000], "labelExpr": "datum.value == 10000 ? '10 000' : datum.value == 5000 ? '5 000,0' : datum.value == 0 ? '0' : ''", "labelFontSize": 5.5, "tickSize": 2, "labelPadding": 0, "grid": true}}
       },
       "layer": [
         {"data": {"name": "rvol"}, "mark": {"type": "bar", "color": "#7db6f2", "size": 2.5, "clip": true}},
         {"data": {"name": "vlast"}, "mark": {"type": "point", "shape": "M0,-1H5V1H0Z", "size": 64, "filled": true, "fill": "#ffffff", "stroke": "#3a5ab0", "strokeWidth": 1, "opacity": 1}, "encoding": {"x": {"datum": 376, "type": "quantitative"}}},
         {"data": {"name": "vlast"}, "mark": {"type": "text", "align": "left", "baseline": "middle", "dx": 1, "fontSize": 5.5, "color": "#2a4aa0", "limit": 19}, "encoding": {"x": {"datum": 376, "type": "quantitative"}, "text": {"field": "label"}}}
       ]}
    ], "spacing": 7, "bounds": "flush"},
    {"width": 376, "height": 19,
     "view": {"fill": "#eaeffc", "stroke": "#505060", "strokeWidth": 1},
     "data": {"name": "rdate"},
     "encoding": {
       "x": {"field": "i", "type": "quantitative", "scale": {"domain": [0, 376], "nice": false, "zero": false}, "axis": null},
       "y": {"field": "r", "type": "nominal", "scale": {"domain": ["d", "m"], "paddingInner": 0, "paddingOuter": 0}, "axis": {"grid": true, "bandPosition": 0, "labels": false, "ticks": false, "domain": false, "gridDash": [], "gridColor": "#505060"}}
     },
     "layer": [
       {"mark": {"type": "tick", "color": "#505060", "thickness": 1, "size": 9}},
       {"mark": {"type": "text", "align": "left", "baseline": "middle", "dx": 2, "fontSize": 7, "color": "#8b2a2a"}, "encoding": {"text": {"field": "l"}}}
     ]},
    {"width": 395, "height": 6, "view": {"fill": "#d4d0c8", "stroke": null}, "data": {"values": [{}]}, "mark": {"type": "text"}, "encoding": {"text": {"value": ""}}},
    {"width": 395, "height": 7, "view": {"fill": "#a4a4a4", "stroke": null}, "data": {"values": [{}]}, "mark": {"type": "text"}, "encoding": {"text": {"value": ""}}}
  ], "spacing": 0, "bounds": "full"}
]
}
